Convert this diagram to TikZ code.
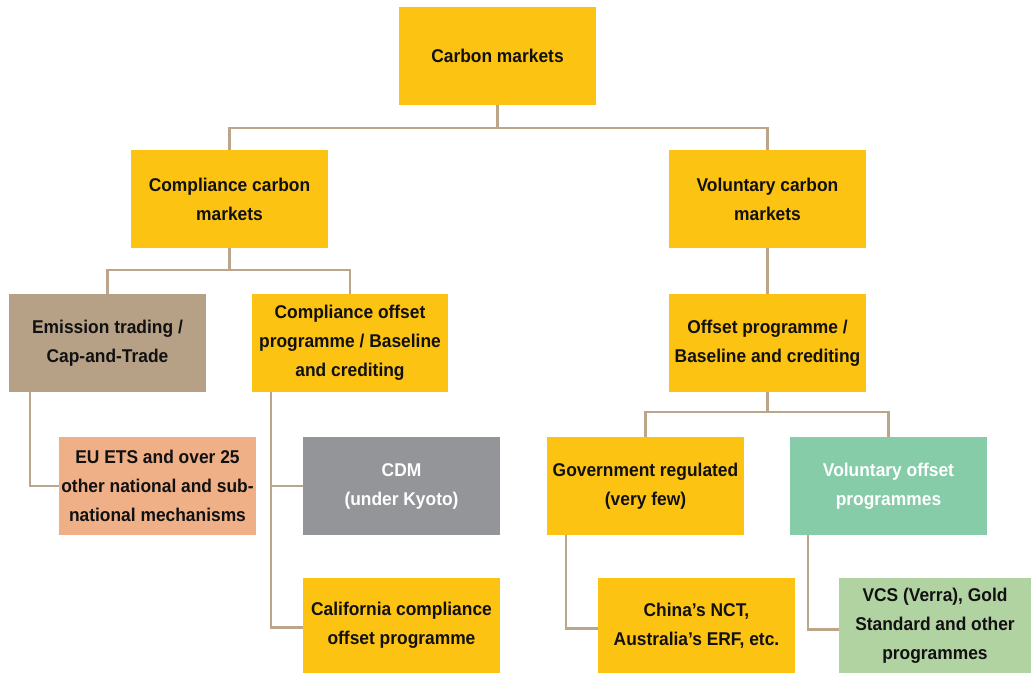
\documentclass[tikz,border=0pt]{standalone}
\usepackage{fontspec}
\setmainfont{Liberation Sans}[FakeStretch=0.94]
\definecolor{cyellow}{HTML}{FDC312}
\definecolor{ctan}{HTML}{B6A187}
\definecolor{cline}{HTML}{BBA68B}
\definecolor{csalmon}{HTML}{EFB087}
\definecolor{cgrey}{HTML}{939598}
\definecolor{cmint}{HTML}{86CCA9}
\definecolor{clgreen}{HTML}{B1D3A2}
\definecolor{ctext}{HTML}{111111}
\begin{document}
\begin{tikzpicture}[x=1pt,y=-1pt,
  box/.style={rectangle,minimum width=197pt,minimum height=98pt,inner sep=0pt,align=center,
    font=\bfseries\fontsize{18.5}{29}\selectfont,text=ctext,fill=cyellow},
  conn/.style={draw=cline,line width=2.5pt}]
\useasboundingbox (0,0) rectangle (1031,674);
\node[box] (top) at (497.5,56) {Carbon markets};
\node[box] (comp) at (229.5,199) {Compliance carbon\\markets};
\node[box] (vol) at (767.5,199) {Voluntary carbon\\markets};
\node[box,fill=ctan] (ets) at (107.5,343) {Emission trading /\\Cap-and-Trade};
\node[box,minimum width=196pt] (cop) at (350,343) {Compliance offset\\programme / Baseline\\and crediting};
\node[box] (off) at (767.5,343) {Offset programme /\\Baseline and crediting};
\node[box,fill=csalmon] (eu) at (157.5,486) {EU ETS and over 25\\other national and sub-\\national mechanisms};
\node[box,fill=cgrey,text=white] (cdm) at (401.5,486) {CDM\\(under Kyoto)};
\node[box,minimum height=95pt] (cal) at (401.5,625.5) {California compliance\\offset programme};
\node[box] (gov) at (645.5,486) {Government regulated\\(very few)};
\node[box,fill=cmint,text=white] (vop) at (888.5,486) {Voluntary offset\\programmes};
\node[box,minimum height=95pt] (china) at (696.5,625.5) {China’s NCT,\\Australia’s ERF, etc.};
\node[box,fill=clgreen,minimum width=192pt,minimum height=95pt] (vcs) at (935,625.5) {VCS (Verra), Gold\\Standard and other\\programmes};
\coordinate (j1) at ([yshift=-23pt]top.south);
\coordinate (j2) at ([yshift=-22pt]comp.south);
\coordinate (j3) at ([yshift=-20pt]off.south);
\coordinate (e1) at ([xshift=21pt]ets.south west);
\coordinate (c1) at ([xshift=19pt]cop.south west);
\coordinate (g1) at ([xshift=19pt]gov.south west);
\coordinate (v1) at ([xshift=18pt]vop.south west);
\draw[conn] (top.south) -- (j1) -| (comp.north);
\draw[conn] (j1) -| (vol.north);
\draw[conn] (comp.south) -- (j2) -| (ets.north);
\draw[conn] (j2) -| (cop.north);
\draw[conn] (vol.south) -- (off.north);
\draw[conn] (off.south) -- (j3) -| (gov.north);
\draw[conn] (j3) -| (vop.north);
\draw[conn] (e1) |- (eu.west);
\draw[conn] (c1) |- ([yshift=-2pt]cal.west);
\draw[conn] (c1) |- (cdm.west);
\draw[conn] (g1) |- ([yshift=-3pt]china.west);
\draw[conn] (v1) |- ([yshift=-4pt]vcs.west);
\end{tikzpicture}
\end{document}
